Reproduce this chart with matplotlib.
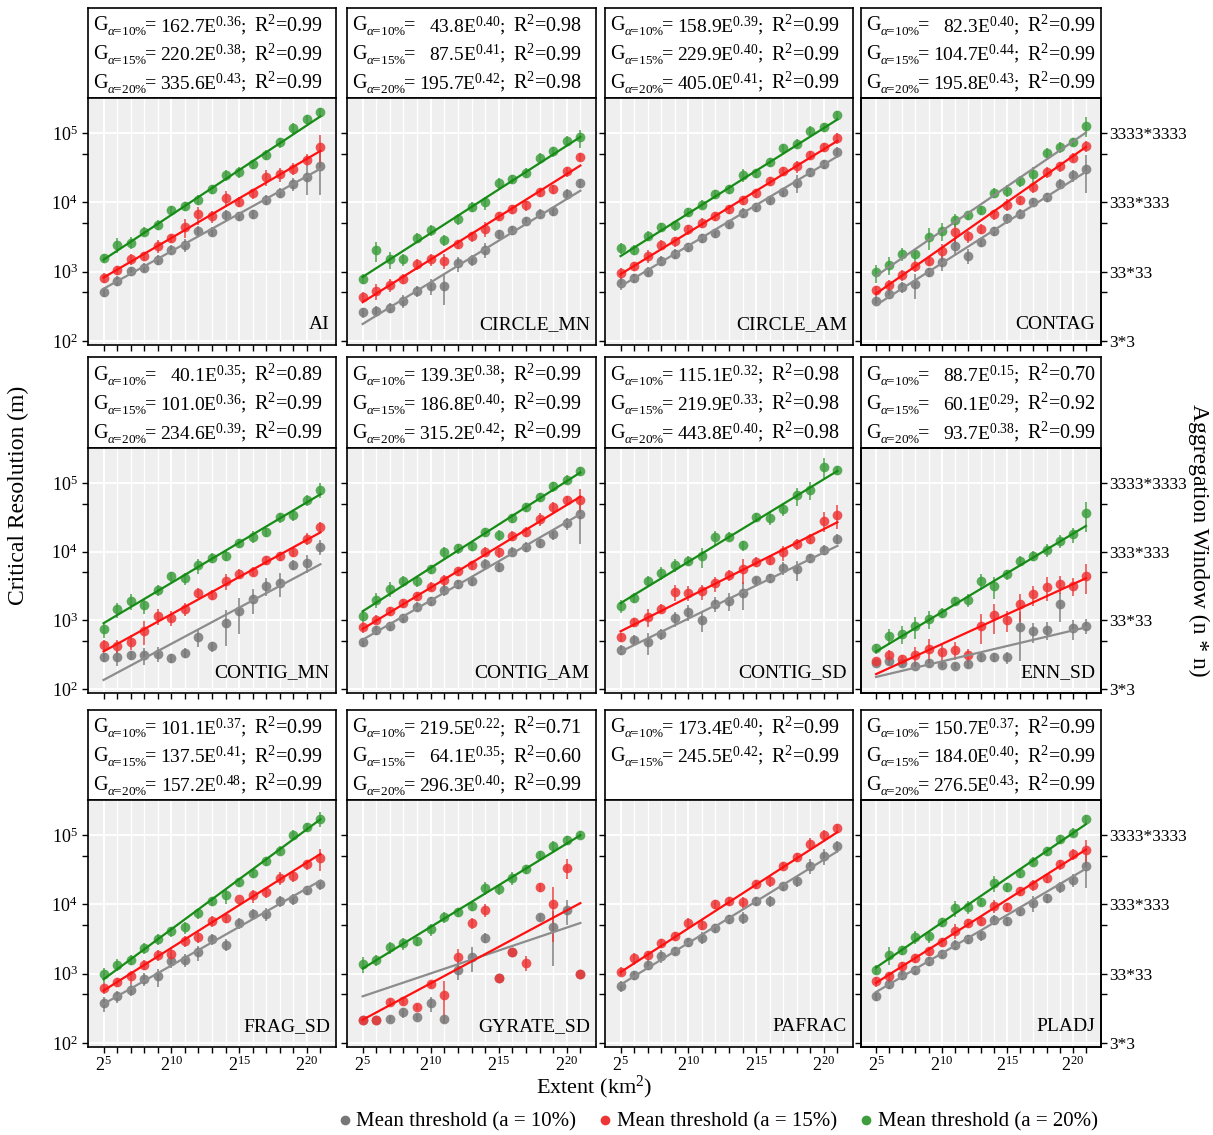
import numpy as np
import matplotlib
matplotlib.use("Agg")
import matplotlib.pyplot as plt
from matplotlib.lines import Line2D

plt.rcParams['font.family'] = 'Liberation Serif'
plt.rcParams['mathtext.fontset'] = 'custom'
plt.rcParams['mathtext.rm'] = 'Liberation Serif'
plt.rcParams['mathtext.it'] = 'Liberation Serif:italic'
plt.rcParams['mathtext.bf'] = 'Liberation Serif:bold'

# extent = 2^5 ... 2^21 km2
powers = list(range(5, 22))
nan = float('nan')

# ---- data: log10 of critical resolution (m) ----
# errors are relative half widths of the error bars
ai_10 = [2.71, 2.87, 3.01, 3.06, 3.17, 3.32, 3.39, 3.59, 3.58, 3.82, 3.80, 3.83, 4.04, 4.14, 4.27, 4.37, 4.53]
ai_15 = [2.91, 3.02, 3.18, 3.23, 3.37, 3.49, 3.64, 3.83, 3.80, 4.07, 4.01, 4.13, 4.37, 4.41, 4.49, 4.62, 4.80]
ai_20 = [3.20, 3.39, 3.42, 3.58, 3.68, 3.89, 3.95, 4.04, 4.19, 4.40, 4.44, 4.55, 4.69, 4.87, 5.07, 5.20, 5.31]
ai_e10 = [.15, .15, .15, .15, .17, .15, .22, .17, .15, .17, .15, .15, .17, .17, .22, .45, .62]
ai_e15 = [.17, .15, .17, .15, .21, .15, .3, .29, .19, .25, .17, .17, .25, .22, .19, .19, .5]
ai_e20 = [.15, .23, .19, .15, .17, .15, .15, .17, .15, .19, .17, .15, .17, .17, .19, .15, .14]

cmn_10 = [2.41, 2.43, 2.48, 2.58, 2.72, 2.79, 2.79, 3.12, 3.17, 3.32, 3.54, 3.60, 3.73, 3.84, 3.88, 4.12, 4.28]
cmn_15 = [2.64, 2.72, 2.81, 2.90, 3.11, 3.18, 3.16, 3.40, 3.51, 3.62, 3.80, 3.91, 3.96, 4.15, 4.19, 4.45, 4.66]
cmn_20 = [2.90, 3.31, 3.18, 3.18, 3.49, 3.60, 3.46, 3.76, 3.94, 4.00, 4.28, 4.34, 4.43, 4.65, 4.74, 4.89, 4.94]
cmn_e10 = [.17, .17, .15, .22, .19, .25, .47, .25, .19, .25, .15, .15, .15, .15, .15, .17, .14]
cmn_e15 = [.17, .25, .21, .17, .17, .19, .25, .15, .17, .25, .14, .15, .17, .15, .15, .17, .14]
cmn_e20 = [.17, .32, .29, .19, .17, .19, .19, .19, .15, .21, .17, .15, .17, .17, .17, .17, .29]

cam_10 = [2.84, 2.91, 3.00, 3.16, 3.26, 3.35, 3.49, 3.56, 3.69, 3.85, 3.93, 4.03, 4.15, 4.28, 4.44, 4.55, 4.73]
cam_15 = [2.98, 3.08, 3.23, 3.39, 3.44, 3.61, 3.71, 3.80, 3.91, 4.03, 4.14, 4.31, 4.45, 4.52, 4.69, 4.80, 4.93]
cam_20 = [3.34, 3.32, 3.52, 3.64, 3.67, 3.86, 3.97, 4.12, 4.19, 4.40, 4.43, 4.58, 4.79, 4.85, 5.04, 5.09, 5.26]
cam_e10 = [.21, .15, .15, .15, .15, .15, .15, .15, .15, .17, .15, .15, .15, .29, .15, .15, .17]
cam_e15 = [.19, .15, .21, .17, .17, .17, .17, .15, .15, .15, .15, .15, .15, .19, .15, .15, .17]
cam_e20 = [.17, .17, .15, .15, .17, .15, .15, .15, .15, .21, .15, .15, .15, .15, .15, .15, .14]

ctg_10 = [2.58, 2.68, 2.78, 2.82, 2.99, 3.14, 3.37, 3.23, 3.43, 3.59, 3.77, 3.84, 4.00, 4.08, 4.27, 4.39, 4.49]
ctg_15 = [2.73, 2.81, 2.95, 3.08, 3.15, 3.30, 3.57, 3.51, 3.62, 3.83, 3.97, 4.03, 4.22, 4.44, 4.52, 4.65, 4.82]
ctg_20 = [2.99, 3.10, 3.26, 3.25, 3.50, 3.59, 3.75, 3.82, 3.89, 4.14, 4.17, 4.31, 4.41, 4.72, 4.80, 4.88, 5.11]
ctg_e10 = [.17, .17, .19, .39, .15, .25, .25, .25, .15, .15, .17, .15, .15, .15, .17, .19, .56]
ctg_e15 = [.17, .19, .17, .19, .15, .25, .32, .19, .17, .17, .19, .15, .17, .17, .17, .15, .19]
ctg_e20 = [.29, .29, .21, .19, .35, .29, .21, .15, .15, .17, .19, .17, .25, .17, .17, .14, .32]

cgmn_10 = [2.46, 2.46, 2.49, 2.49, 2.51, 2.45, 2.53, 2.76, 2.62, 2.96, 3.14, 3.31, 3.50, 3.55, 3.81, 3.84, 4.07]
cgmn_15 = [2.64, 2.63, 2.69, 2.85, 3.06, 3.04, 3.17, 3.40, 3.37, 3.57, 3.68, 3.71, 3.88, 3.94, 3.99, 4.19, 4.36]
cgmn_20 = [2.87, 3.16, 3.28, 3.22, 3.44, 3.64, 3.61, 3.80, 3.91, 3.94, 4.13, 4.22, 4.29, 4.50, 4.53, 4.75, 4.90]
cgmn_e10 = [.15, .25, .15, .29, .25, .15, .17, .29, .17, .54, .54, .39, .29, .39, .17, .29, .25]
cgmn_e15 = [.17, .21, .25, .39, .25, .25, .21, .17, .17, .25, .15, .15, .15, .15, .15, .19, .17]
cgmn_e20 = [.25, .25, .25, .25, .19, .17, .19, .25, .17, .17, .15, .19, .15, .17, .17, .17, .25]

cgam_10 = [2.68, 2.86, 2.92, 3.03, 3.20, 3.28, 3.44, 3.53, 3.57, 3.82, 3.78, 4.00, 4.07, 4.12, 4.25, 4.41, 4.55]
cgam_15 = [2.90, 3.01, 3.13, 3.25, 3.35, 3.49, 3.58, 3.72, 3.81, 4.00, 3.99, 4.23, 4.29, 4.48, 4.65, 4.75, 4.75]
cgam_20 = [3.06, 3.30, 3.46, 3.57, 3.57, 3.75, 3.99, 4.05, 4.08, 4.29, 4.24, 4.49, 4.65, 4.80, 4.95, 5.05, 5.17]
cgam_e10 = [.14, .15, .15, .15, .15, .15, .17, .15, .15, .17, .17, .15, .17, .15, .17, .19, .64]
cgam_e15 = [.19, .15, .15, .15, .15, .15, .21, .15, .15, .15, .17, .17, .17, .21, .17, .15, .47]
cgam_e20 = [.17, .25, .25, .17, .17, .15, .21, .17, .15, .15, .17, .15, .15, .15, .17, .15, .14]

cgsd_10 = [2.57, 2.71, 2.68, 2.80, 3.03, 3.12, 3.00, 3.24, 3.28, 3.40, 3.58, 3.62, 3.76, 3.74, 3.91, 4.03, 4.19]
cgsd_15 = [2.75, 2.97, 3.05, 3.17, 3.41, 3.40, 3.42, 3.54, 3.66, 3.75, 3.85, 3.88, 3.99, 4.11, 4.19, 4.45, 4.54]
cgsd_20 = [3.21, 3.33, 3.57, 3.69, 3.81, 3.87, 3.93, 4.21, 4.22, 4.09, 4.50, 4.49, 4.62, 4.82, 4.90, 5.24, 5.19]
cgsd_e10 = [.17, .17, .35, .19, .25, .25, .32, .25, .29, .44, .14, .15, .21, .32, .15, .17, .17]
cgsd_e15 = [.15, .15, .29, .15, .25, .25, .25, .25, .17, .39, .17, .17, .25, .19, .17, .32, .39]
cgsd_e20 = [.21, .17, .17, .21, .21, .17, .32, .25, .15, .17, .15, .21, .21, .29, .29, .32, .15]

enn_10 = [2.38, 2.40, 2.37, 2.34, 2.38, 2.35, 2.34, 2.36, 2.46, 2.46, 2.46, 2.90, 2.84, 2.86, 3.24, 2.88, 2.92]
enn_15 = [2.40, 2.49, 2.43, 2.49, 2.58, 2.54, 2.57, 2.50, 2.92, 3.07, 3.01, 3.23, 3.38, 3.49, 3.53, 3.50, 3.65]
enn_20 = [2.59, 2.77, 2.80, 2.92, 3.02, 3.11, 3.28, 3.30, 3.57, 3.50, 3.67, 3.87, 3.94, 4.03, 4.16, 4.25, 4.56]
enn_e10 = [.1, .12, .1, .1, .12, .1, .1, .12, .15, .15, .21, .68, .32, .29, .46, .32, .25]
enn_e15 = [0, .19, .15, .32, .39, .32, .29, .21, .46, .46, .35, .44, .32, .39, .29, .29, .46]
enn_e20 = [.17, .25, .29, .35, .29, .17, .15, .21, .25, .35, .17, .17, .17, .21, .21, .25, .46]

frag_10 = [2.57, 2.67, 2.77, 2.92, 2.96, 3.19, 3.20, 3.31, 3.50, 3.42, 3.73, 3.86, 3.86, 4.05, 4.08, 4.21, 4.29]
frag_15 = [2.79, 2.88, 2.96, 3.13, 3.27, 3.29, 3.47, 3.53, 3.76, 3.81, 4.08, 4.13, 4.18, 4.38, 4.41, 4.58, 4.67]
frag_20 = [2.99, 3.13, 3.20, 3.37, 3.50, 3.61, 3.67, 3.87, 4.05, 4.13, 4.32, 4.45, 4.63, 4.78, 5.01, 5.12, 5.24]
frag_e10 = [.25, .19, .19, .21, .29, .21, .21, .25, .17, .19, .19, .17, .21, .17, .17, .15, .17]
frag_e15 = [.17, .15, .21, .15, .17, .19, .19, .19, .17, .17, 0, .21, .19, .21, .19, .17, .35]
frag_e20 = [.25, .19, .17, .17, .17, .17, .21, .17, .15, .25, .15, .15, .15, .15, .17, .15, .25]

gyr_10 = [2.33, 2.33, 2.34, 2.44, 2.37, 2.57, 2.34, 3.06, 3.24, 3.52, 2.94, 3.32, nan, 3.82, 3.67, 3.92, 3.00]
gyr_15 = [2.33, 2.33, 2.59, 2.60, 2.52, 2.85, 2.69, 3.24, 3.73, 3.92, 2.94, 3.32, 3.16, 4.25, 4.01, 4.53, 3.00]
gyr_20 = [3.14, 3.20, 3.38, 3.44, 3.47, 3.64, 3.82, 3.89, 3.98, 4.24, 4.22, 4.38, 4.51, 4.71, 4.84, 4.93, 5.01]
gyr_e10 = [0, 0, .1, .17, .1, .25, 0, .29, .39, .17, 0, 0, 0, .12, .72, .39, 0]
gyr_e15 = [0, 0, .12, .12, .1, .12, .6, .32, .19, .21, 0, 0, .25, .15, .72, .32, 0]
gyr_e20 = [.25, .19, .19, .19, .15, .19, .19, .15, .15, .21, .17, .21, .15, .15, .19, .15, .14]

paf_10 = [2.82, 2.98, 3.13, 3.26, 3.33, 3.46, 3.52, 3.66, 3.79, 3.81, 4.05, 4.05, 4.26, 4.34, 4.56, 4.70, 4.84]
paf_15 = [3.03, 3.22, 3.27, 3.44, 3.54, 3.73, 3.71, 4.00, 4.05, 4.03, 4.29, 4.34, 4.56, 4.68, 4.88, 5.00, 5.10]
paf_e10 = [.17, .15, .15, .21, .14, .15, .19, .15, .15, .19, .15, .19, .14, .19, .25, .25, .19]
paf_e15 = [.15, .19, .15, .15, .15, .19, .17, .15, .15, .19, .15, .19, .14, .15, .21, .21, .14]

pla_10 = [2.67, 2.85, 2.98, 3.05, 3.18, 3.29, 3.42, 3.50, 3.56, 3.78, 3.76, 3.90, 4.02, 4.09, 4.25, 4.36, 4.56]
pla_15 = [2.89, 2.97, 3.11, 3.23, 3.33, 3.46, 3.62, 3.73, 3.76, 3.98, 3.96, 4.19, 4.28, 4.38, 4.58, 4.73, 4.79]
pla_20 = [3.06, 3.27, 3.34, 3.53, 3.54, 3.75, 3.95, 3.97, 4.04, 4.31, 4.25, 4.46, 4.62, 4.77, 4.94, 5.04, 5.23]
pla_e10 = [.15, .14, .14, .14, .14, .14, .15, .15, .17, .15, .15, .15, .25, .15, .17, .21, .52]
pla_e15 = [.17, .15, .15, .15, .15, .15, .25, .15, .15, .21, .15, .15, .17, .15, .17, .17, .37]
pla_e20 = [.15, .29, .15, .21, .21, .15, .25, .21, .14, .25, .14, .15, .15, .15, .15, .15, .14]

# fitted power laws G = a * E^b (from the panel headers): (a, b, R2)
names = ['AI', 'CIRCLE_MN', 'CIRCLE_AM', 'CONTAG',
         'CONTIG_MN', 'CONTIG_AM', 'CONTIG_SD', 'ENN_SD',
         'FRAG_SD', 'GYRATE_SD', 'PAFRAC', 'PLADJ']
fit_10 = [(162.7, .36, .99), (43.8, .40, .98), (158.9, .39, .99), (82.3, .40, .99),
          (40.1, .35, .89), (139.3, .38, .99), (115.1, .32, .98), (88.7, .15, .70),
          (101.1, .37, .99), (219.5, .22, .71), (173.4, .40, .99), (150.7, .37, .99)]
fit_15 = [(220.2, .38, .99), (87.5, .41, .99), (229.9, .40, .99), (104.7, .44, .99),
          (101.0, .36, .99), (186.8, .40, .99), (219.9, .33, .98), (60.1, .29, .92),
          (137.5, .41, .99), (64.1, .35, .60), (245.5, .42, .99), (184.0, .40, .99)]
fit_20 = [(335.6, .43, .99), (195.7, .42, .98), (405.0, .41, .99), (195.8, .43, .99),
          (234.6, .39, .99), (315.2, .42, .99), (443.8, .40, .98), (93.7, .38, .99),
          (157.2, .48, .99), (296.3, .40, .99), None, (276.5, .43, .99)]

series_10 = [ai_10, cmn_10, cam_10, ctg_10, cgmn_10, cgam_10, cgsd_10, enn_10, frag_10, gyr_10, paf_10, pla_10]
series_15 = [ai_15, cmn_15, cam_15, ctg_15, cgmn_15, cgam_15, cgsd_15, enn_15, frag_15, gyr_15, paf_15, pla_15]
series_20 = [ai_20, cmn_20, cam_20, ctg_20, cgmn_20, cgam_20, cgsd_20, enn_20, frag_20, gyr_20, None, pla_20]
err_10 = [ai_e10, cmn_e10, cam_e10, ctg_e10, cgmn_e10, cgam_e10, cgsd_e10, enn_e10, frag_e10, gyr_e10, paf_e10, pla_e10]
err_15 = [ai_e15, cmn_e15, cam_e15, ctg_e15, cgmn_e15, cgam_e15, cgsd_e15, enn_e15, frag_e15, gyr_e15, paf_e15, pla_e15]
err_20 = [ai_e20, cmn_e20, cam_e20, ctg_e20, cgmn_e20, cgam_e20, cgsd_e20, enn_e20, frag_e20, gyr_e20, None, pla_e20]

right_labels = ['3*3', '33*33', '333*333', '3333*3333']

pt_colors = ['#777777', '#ee3535', '#3e9e3e']
ln_colors = ['#8c8c8c', '#ff1010', '#168c16']
alphas = ['10', '15', '20']

W, H = 1213, 1135
fig = plt.figure(figsize=(W / 100, H / 100), dpi=100)

cols = [(88, 336), (347, 596), (605, 853), (861, 1101)]
rows_plot = [(98, 345), (448, 693), (800, 1047)]
rows_head = [(8, 98), (357, 448), (710, 800)]

def fax(x0, x1, y0, y1):
    return fig.add_axes([x0 / W, 1 - y1 / H, (x1 - x0) / W, (y1 - y0) / H])

x = np.array([2.0 ** p for p in powers])
xfit = 2.0 ** np.linspace(5, 21, 60)

for i, name in enumerate(names):
    r, c = divmod(i, 4)
    cx0, cx1 = cols[c]
    cw = cx1 - cx0
    # header box with the fitted equations
    hx = fax(cx0, cx1, *rows_head[r])
    hx.set_xticks([])
    hx.set_yticks([])
    for s in hx.spines.values():
        s.set_linewidth(1.2)
    fits = [fit_10[i], fit_15[i], fit_20[i]]
    ypos = [0.80, 0.48, 0.16]
    for k, f in enumerate(fits):
        if f is None:
            continue
        a, b, r2 = f
        hx.text(5 / cw, ypos[k], 'G', transform=hx.transAxes,
                ha='left', va='center', fontsize=14.5)
        hx.text(19 / cw, ypos[k] - 0.07, r'$\alpha$=' + alphas[k] + '%', transform=hx.transAxes,
                ha='left', va='center', fontsize=9.5)
        hx.text(57 / cw, ypos[k], '=', transform=hx.transAxes,
                ha='left', va='center', fontsize=14.5)
        hx.text(158 / cw, ypos[k], '%.1fE$^{%.2f}$;' % (a, b), transform=hx.transAxes,
                ha='right', va='center', fontsize=14)
        hx.text(166 / cw, ypos[k], 'R$^{2}$=%.2f' % r2, transform=hx.transAxes,
                ha='left', va='center', fontsize=14.5)

    ax = fax(cx0, cx1, *rows_plot[r])
    ax.set_facecolor('#efefef')
    ax.set_xscale('log', base=2)
    ax.set_yscale('log')
    ax.set_xlim(2 ** 3.85, 2 ** 22.15)
    ax.set_ylim(10 ** 1.94, 10 ** 5.51)
    ax.set_xticks([2 ** 5, 2 ** 10, 2 ** 15, 2 ** 20])
    ax.set_xticks([2.0 ** p for p in powers], minor=True)
    ax.set_yticks([1e2, 1e3, 1e4, 1e5])
    ax.set_yticks([5e2, 5e3, 5e4], minor=True)
    ax.grid(which='major', axis='both', color='white', lw=1.4, zorder=0)
    ax.grid(which='minor', axis='x', color='white', lw=0.9, zorder=0)
    ax.set_axisbelow(True)
    ax.tick_params(which='both', direction='out', length=4, width=1, labelsize=13)
    ax.tick_params(axis='x', pad=2)
    ax.tick_params(which='minor', labelbottom=False, labelleft=False)
    if r == 2:
        ax.set_xticklabels([r'$2^{5}$', r'$2^{10}$', r'$2^{15}$', r'$2^{20}$'])
    else:
        ax.set_xticklabels([])
    if c == 0:
        ax.set_yticklabels([r'$10^{2}$', r'$10^{3}$', r'$10^{4}$', r'$10^{5}$'])
    else:
        ax.set_yticklabels([])
    for s in ax.spines.values():
        s.set_linewidth(1.2)

    data = [series_10[i], series_15[i], series_20[i]]
    errs = [err_10[i], err_15[i], err_20[i]]
    for k in range(3):
        if data[k] is None:
            continue
        yv = 10 ** np.array(data[k])
        ye = np.array(errs[k]) * yv
        ax.errorbar(x, yv, yerr=ye, fmt='o', ms=7, color=pt_colors[k], ecolor=pt_colors[k],
                    elinewidth=1.2, capsize=4, capthick=1.2, mew=0, alpha=0.85, zorder=3)
    for k in range(3):
        f = fits[k]
        if f is None:
            continue
        lc = ln_colors[k]
        if name == 'CONTAG' and k == 2:
            lc = ln_colors[0]
        ax.plot(xfit, f[0] * xfit ** f[1], color=lc, lw=1.6, zorder=4)

    ax.text(0.975, 0.05, name, transform=ax.transAxes, ha='right', va='bottom', fontsize=14)

    if c == 3:
        ax2 = ax.twinx()
        ax2.set_yscale('log')
        ax2.set_ylim(ax.get_ylim())
        ax2.set_yticks([1e2, 1e3, 1e4, 1e5])
        ax2.set_yticks([5e2, 5e3, 5e4], minor=True)
        ax2.set_yticklabels(right_labels)
        ax2.tick_params(which='both', direction='out', length=4, width=1, labelsize=12.5, pad=2)
        ax2.tick_params(which='minor', labelright=False)
        for s in ax2.spines.values():
            s.set_linewidth(1.2)

fig.text(18 / W, 1 - 495 / H, 'Critical Resolution (m)', rotation=90, ha='center', va='center', fontsize=17)
fig.text(1199 / W, 1 - 540 / H, 'Aggregation Window (n * n)', rotation=270, ha='center', va='center', fontsize=17)
fig.text(594 / W, 1 - 1087 / H, 'Extent (km$^{2}$)', ha='center', va='center', fontsize=16)

handles = [Line2D([], [], marker='o', ls='none', ms=7, color=pt_colors[k], mew=0) for k in range(3)]
labels = ['Mean threshold (a = 10%)', 'Mean threshold (a = 15%)', 'Mean threshold (a = 20%)']
fig.legend(handles, labels, loc='center', bbox_to_anchor=(716 / W, 1 - 1122 / H), ncol=3,
           frameon=False, fontsize=15, handletextpad=0.05, columnspacing=0.9, handlelength=1.0)

fig.savefig('out.png', dpi=100)
